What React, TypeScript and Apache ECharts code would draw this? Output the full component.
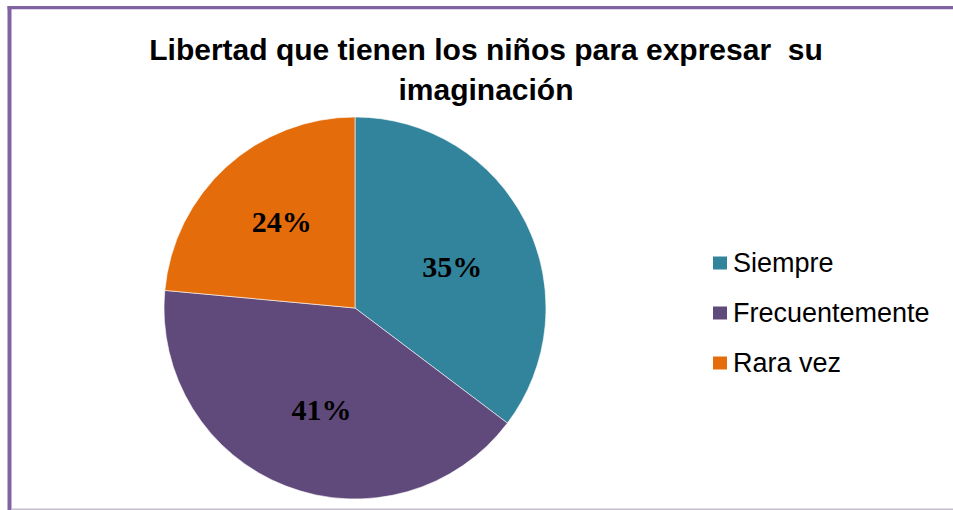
import React, { useEffect, useRef } from "react";
import * as echarts from "echarts";

const categories = ["Siempre", "Frecuentemente", "Rara vez"];
const values = [12, 14, 8];
const colors = ["#31849B", "#604A7B", "#E46C0A"];
const titleLines = ["Libertad que tienen los niños para expresar  su", "imaginación"];
const labelOffsets: [number, number][] = [[9, 2], [2, 10], [-7, -14]];

export default function App() {
  const ref = useRef<HTMLDivElement>(null);
  useEffect(() => {
    if (!ref.current) return;
    const chart = echarts.init(ref.current, undefined, { renderer: "svg" });
    chart.setOption({
      animation: false,
      backgroundColor: "#ffffff",
      graphic: [
        { type: "rect", shape: { x: 7.5, y: 6, width: 4, height: 504 }, style: { fill: "#8064A2" }, silent: true },
        { type: "rect", shape: { x: 7.5, y: 6, width: 946, height: 3.3 }, style: { fill: "#8064A2" }, silent: true },
        { type: "rect", shape: { x: 11.5, y: 508.5, width: 942, height: 1.5 }, style: { fill: "#C4C0CC" }, silent: true },
        {
          type: "text",
          x: 486,
          y: 69,
          style: {
            text: titleLines.join("\n"),
            fontFamily: "Liberation Sans, Arial, sans-serif",
            fontWeight: "bold",
            fontSize: 30,
            lineHeight: 40,
            fill: "#000000",
            textAlign: "center",
            textVerticalAlign: "middle",
          },
        },
      ],
      legend: {
        orient: "vertical",
        left: 706,
        top: 243,
        itemWidth: 16,
        itemHeight: 15,
        itemGap: 20,
        icon: "rect",
        data: categories,
        textStyle: {
          fontFamily: "Liberation Sans, Arial, sans-serif",
          fontSize: 27,
          lineHeight: 30,
          color: "#000000",
        },
      },
      series: [
        {
          type: "pie",
          center: [355, 308],
          radius: 191,
          startAngle: 90,
          clockwise: true,
          percentPrecision: 0,
          avoidLabelOverlap: false,
          itemStyle: { borderColor: "#ffffff", borderWidth: 0.6 },
          label: {
            show: true,
            position: "inside",
            formatter: "{d}%",
            fontFamily: "Liberation Serif, Times New Roman, serif",
            fontWeight: "bold",
            fontSize: 30,
            color: "#000000",
          },
          labelLine: { show: false },
          emphasis: { disabled: true },
          data: categories.map((name, i) => ({
            name,
            value: values[i],
            itemStyle: { color: colors[i] },
            label: { offset: labelOffsets[i] },
          })),
        },
      ],
    });
    return () => chart.dispose();
  }, []);
  return (
    <div
      ref={ref}
      style={{ position: "absolute", left: 0, top: 0, width: 953, height: 510 }}
    />
  );
}
